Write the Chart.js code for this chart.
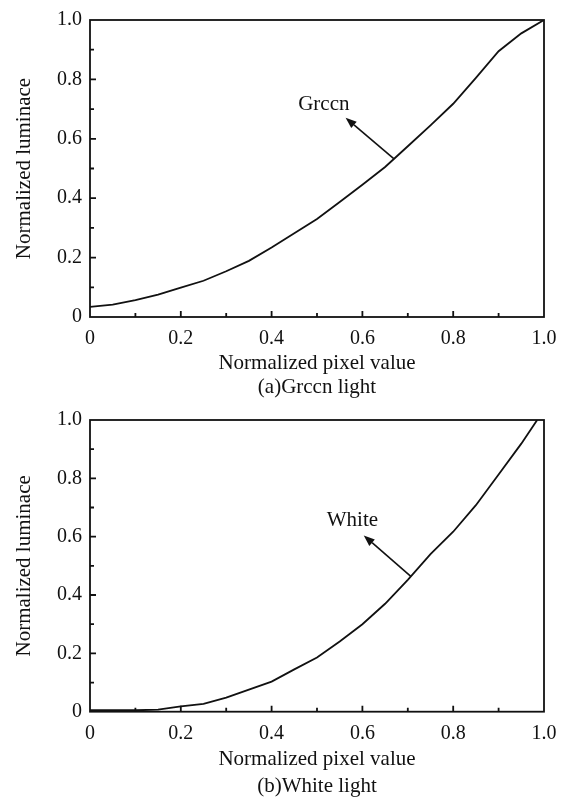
<!DOCTYPE html>
<html>
<head>
<meta charset="utf-8">
<script src="https://cdn.jsdelivr.net/npm/chart.js@4.4.1/dist/chart.umd.min.js"></script>
<style>
  html, body { margin: 0; padding: 0; background: #fff; }
  body { width: 569px; height: 801px; overflow: hidden; }
  canvas { display: block; }
</style>
</head>
<body>
<canvas id="c1" width="569" height="400"></canvas>
<canvas id="c2" width="569" height="401"></canvas>
<script>
// ---------- data ----------
const xTickValues = [0, 0.2, 0.4, 0.6, 0.8, 1.0];
const yTickValues = [0, 0.2, 0.4, 0.6, 0.8, 1.0];

const greenX = [0, 0.05, 0.1, 0.15, 0.2, 0.25, 0.3, 0.35, 0.4, 0.45, 0.5, 0.55, 0.6, 0.65, 0.7, 0.75, 0.8, 0.85, 0.9, 0.95, 1.0];
const greenY = [0.034, 0.042, 0.057, 0.075, 0.099, 0.122, 0.154, 0.189, 0.234, 0.282, 0.330, 0.387, 0.445, 0.505, 0.575, 0.645, 0.718, 0.805, 0.895, 0.955, 1.0];

const whiteX = [0, 0.05, 0.1, 0.15, 0.2, 0.25, 0.3, 0.35, 0.4, 0.45, 0.5, 0.55, 0.6, 0.65, 0.7, 0.75, 0.8, 0.85, 0.9, 0.95, 0.985];
const whiteY = [0.005, 0.005, 0.005, 0.007, 0.018, 0.027, 0.048, 0.076, 0.103, 0.145, 0.186, 0.241, 0.300, 0.370, 0.452, 0.540, 0.617, 0.708, 0.813, 0.919, 1.0];

// annotation: label text, label position, arrow head, arrow tail (data units)
const greenLabel = ["Grccn", 0.515, 0.715];
const greenArrow = [0.563, 0.671, 0.669, 0.533];
const whiteLabel = ["White", 0.578, 0.657];
const whiteArrow = [0.603, 0.604, 0.706, 0.465];

const xTitle = "Normalized pixel value";
const yTitle = "Normalized luminace";
const captionA = "(a)Grccn light";
const captionB = "(b)White light";

// ---------- rendering ----------
const FONT = "'Liberation Serif', 'Times New Roman', serif";
const INK = '#111';

const framePlugin = {
  id: 'frame',
  afterDatasetsDraw(chart, args, opts) {
    const { ctx, chartArea: a, scales: { x, y } } = chart;
    ctx.save();
    ctx.strokeStyle = INK;
    ctx.lineWidth = 1.8;
    ctx.strokeRect(a.left, a.top, a.right - a.left, a.bottom - a.top);
    ctx.beginPath();
    for (let i = 1; i < 10; i++) {
      const v = i / 10;
      const len = (i % 2 === 0) ? 6 : 4;
      const px = x.getPixelForValue(v);
      ctx.moveTo(px, a.bottom);
      ctx.lineTo(px, a.bottom - len);
      const py = y.getPixelForValue(v);
      ctx.moveTo(a.left, py);
      ctx.lineTo(a.left + len, py);
    }
    ctx.stroke();

    // annotation
    const lab = opts.label, arr = opts.arrow;
    const hx = x.getPixelForValue(arr[0]), hy = y.getPixelForValue(arr[1]);
    const tx = x.getPixelForValue(arr[2]), ty = y.getPixelForValue(arr[3]);
    const ang = Math.atan2(hy - ty, hx - tx);
    const L = 11, W = 4.2;
    const bx = hx - L * Math.cos(ang), by = hy - L * Math.sin(ang);
    ctx.lineWidth = 1.6;
    ctx.beginPath();
    ctx.moveTo(tx, ty);
    ctx.lineTo(bx, by);
    ctx.stroke();
    ctx.fillStyle = INK;
    ctx.beginPath();
    ctx.moveTo(hx, hy);
    ctx.lineTo(bx + W * Math.sin(ang), by - W * Math.cos(ang));
    ctx.lineTo(bx - W * Math.sin(ang), by + W * Math.cos(ang));
    ctx.closePath();
    ctx.fill();

    ctx.font = "21px " + FONT;
    ctx.textAlign = 'center';
    ctx.textBaseline = 'middle';
    ctx.fillText(lab[0], x.getPixelForValue(lab[1]), y.getPixelForValue(lab[2]));
    ctx.restore();
  }
};

function tickLabel(v) {
  return v === 0 ? '0' : Number(v).toFixed(1);
}

function makeChart(id, xs, ys, label, arrow, caption, L) {
  const pts = xs.map((xv, i) => ({ x: xv, y: ys[i] }));
  return new Chart(document.getElementById(id), {
    type: 'line',
    data: {
      datasets: [{
        data: pts,
        borderColor: INK,
        borderWidth: 1.8,
        pointRadius: 0,
        tension: 0,
        fill: false
      }]
    },
    options: {
      responsive: false,
      animation: false,
      devicePixelRatio: 1,
      layout: { padding: { left: 0, right: 25, top: L.top, bottom: L.bottom } },
      plugins: {
        legend: { display: false },
        tooltip: { enabled: false },
        title: {
          display: true,
          position: 'bottom',
          fullSize: false,
          text: caption,
          color: INK,
          font: { family: FONT, size: 21, weight: 'normal', lineHeight: 1.2 },
          padding: 0
        },
        frame: { label: label, arrow: arrow }
      },
      scales: {
        x: {
          type: 'linear',
          min: 0, max: 1,
          grid: { display: false, drawTicks: false },
          border: { display: false },
          afterBuildTicks: s => { s.ticks = xTickValues.map(v => ({ value: v })); },
          afterFit: s => { s.height = L.xh; },
          ticks: {
            color: INK, padding: L.tickPad, maxRotation: 0, autoSkip: false,
            font: { family: FONT, size: 20 },
            callback: tickLabel
          },
          title: {
            display: true, text: xTitle, color: INK,
            font: { family: FONT, size: 21, lineHeight: 1 },
            padding: { top: 0, bottom: L.xTitlePad }
          }
        },
        y: {
          type: 'linear',
          min: 0, max: 1,
          grid: { display: false, drawTicks: false },
          border: { display: false },
          afterBuildTicks: s => { s.ticks = yTickValues.map(v => ({ value: v })); },
          afterFit: s => { s.width = 90; },
          ticks: {
            color: INK, padding: 8, autoSkip: false,
            font: { family: FONT, size: 20 },
            callback: tickLabel
          },
          title: {
            display: true, text: yTitle, color: INK,
            font: { family: FONT, size: 21, lineHeight: 1.2 },
            padding: { top: 12, bottom: 0 }
          }
        }
      }
    },
    plugins: [framePlugin]
  });
}

makeChart('c1', greenX, greenY, greenLabel, greenArrow, captionA,
  { top: 15, bottom: 0, xh: 57.8, tickPad: 10, xTitlePad: 1 });
makeChart('c2', whiteX, whiteY, whiteLabel, whiteArrow, captionB,
  { top: 10.5, bottom: 2.4, xh: 61.7, tickPad: 10, xTitlePad: 3 });
</script>
</body>
</html>
